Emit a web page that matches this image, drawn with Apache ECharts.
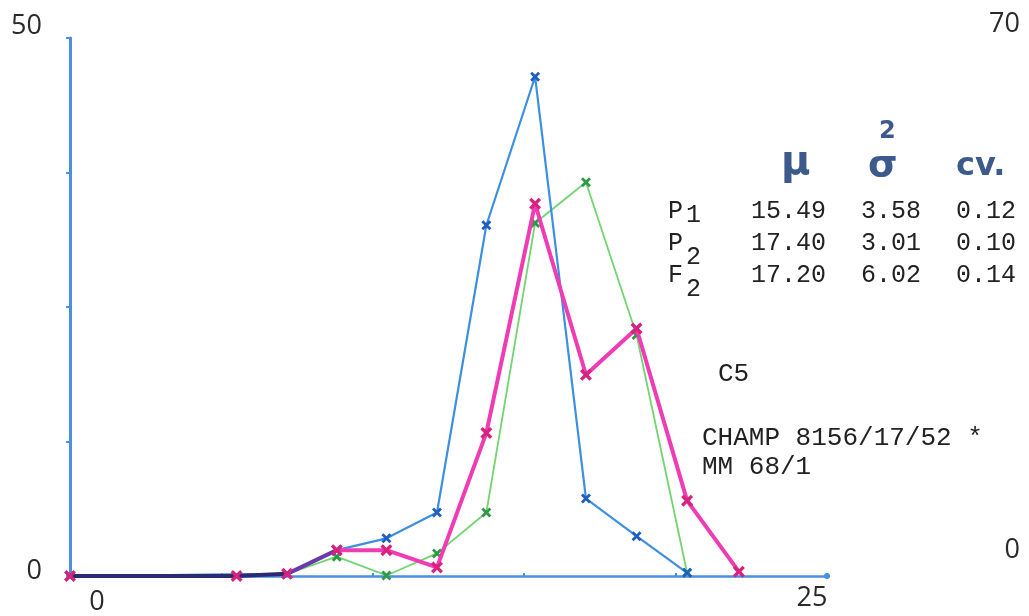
<!DOCTYPE html>
<html><head><meta charset="utf-8">
<script src="https://cdn.jsdelivr.net/npm/echarts@6/dist/echarts.min.js"></script>
<style>html,body{margin:0;padding:0;background:#fff}#c{width:1029px;height:616px}</style>
</head><body><div id="c"></div>
<script>
// ---- data ----
const xs = [0, 5.5, 7.17, 8.81, 10.45, 12.12, 13.75, 15.36, 17.04, 18.71, 20.38, 22.09];
const p1 = [0, null, 0.2, 2.4, 3.5, 5.9, 32.6, 46.4, 7.2, 3.7, 0.3, null];
const p2 = [0, null, 0.2, 1.8, 0.05, 2.1, 5.9, 32.8, 36.6, 22.4, 0.3, null];
const f2 = [0, 0, 0.2, 2.4, 2.4, 0.8, 13.3, 34.6, 18.7, 23.0, 7.0, 0.4];
const xTickLabels = ['0', '25'];
const yLeftTickLabels = ['0', '50'];
const yRightTickLabels = ['0', '70'];
const rowNames = ['P', 'P', 'F'];
const rowSubs = ['1', '2', '2'];
const muVals = ['15.49', '17.40', '17.20'];
const varVals = ['3.58', '3.01', '6.02'];
const cvVals = ['0.12', '0.10', '0.14'];
const headers = ['\u03bc', '\u03c3', 'cv.'];
const notes = ['C5', 'CHAMP 8156/17/52 *', 'MM 68/1'];

const pair = arr => xs.map((x, i) => [x, arr[i]]);
const X = 'path://M0,2L2,0L5,3L8,0L10,2L7,5L10,8L8,10L5,7L2,10L0,8L3,5Z';
const chart = echarts.init(document.getElementById('c'));
const mono = 'Liberation Mono';
const g = [];
rowNames.forEach((n, i) => {
  const cy = 199 + i * 32;
  g.push({type:'text', x:668, y:cy, style:{text:n, font:'25px "' + mono + '"', fill:'#222'}});
  g.push({type:'text', x:686, y:cy + [4, 14, 14][i], style:{text:rowSubs[i], font:'25px "' + mono + '"', fill:'#222'}});
  g.push({type:'text', x:751, y:cy, style:{text:muVals[i], font:'25px "' + mono + '"', fill:'#222'}});
  g.push({type:'text', x:861, y:cy, style:{text:varVals[i], font:'25px "' + mono + '"', fill:'#222'}});
  g.push({type:'text', x:956, y:cy, style:{text:cvVals[i], font:'25px "' + mono + '"', fill:'#222'}});
});
const hc = '#3d5a8c';
g.push({type:'text', x:781, y:144, style:{text:headers[0], font:'bold 40px "DejaVu Sans"', fill:hc}});
g.push({type:'text', x:868, y:147, style:{text:headers[1], font:'bold 38px "DejaVu Sans"', fill:hc}});
g.push({type:'text', x:879, y:120, style:{text:'2', font:'bold 24px "DejaVu Sans"', fill:hc}});
g.push({type:'text', x:956, y:151, style:{text:headers[2], font:'bold 32px "DejaVu Sans"', fill:hc}});
g.push({type:'text', x:718, y:361, style:{text:notes[0], font:'26px "' + mono + '"', fill:'#222'}});
g.push({type:'text', x:702, y:425, style:{text:notes[1], font:'26px "' + mono + '"', fill:'#222'}});
g.push({type:'text', x:702, y:454, style:{text:notes[2], font:'26px "' + mono + '"', fill:'#222'}});

// overlapping start of the curves is drawn darker, as in the reference
const lastX = xs[xs.length - 1];
const s1 = xs[2] / lastX, s2 = xs[3] / lastX;
const f2Line = {type:'linear', x:0, y:0, x2:1, y2:0, colorStops:[
  {offset:0, color:'#2b2a72'}, {offset:s1, color:'#2b2a72'},
  {offset:s1, color:'#6a3aa8'}, {offset:s2, color:'#6a3aa8'},
  {offset:s2, color:'#f03cb4'}, {offset:1, color:'#f03cb4'}]};

const lab = {fontFamily:'Open Sans', fontSize:27, color:'#2a2a2a'};
chart.setOption({
  animation:false,
  backgroundColor:'#fff',
  grid:{left:70, right:202, top:38, bottom:39},
  xAxis:{type:'value', min:0, max:25, interval:5,
    axisLine:{show:true, lineStyle:{color:'#4a8fe0', width:2.5}, symbol:['none','circle'], symbolSize:[6,6]},
    axisTick:{show:true, inside:true, length:3, lineStyle:{color:'#4a8fe0', width:2}},
    splitLine:{show:false},
    axisLabel:{margin:9, showMinLabel:true, showMaxLabel:true,
      formatter:v => v === 0 ? '{a|' + xTickLabels[0] + '}' : (v === 25 ? '{b|' + xTickLabels[1] + '}' : ''),
      rich:{a:Object.assign({padding:[4,0,0,54]}, lab), b:Object.assign({padding:[0,30,0,0]}, lab)}}},
  yAxis:[{type:'value', min:0, max:50, interval:12.5, position:'left',
    axisLine:{show:true, lineStyle:{color:'#4a8fe0', width:3}},
    axisTick:{show:true, length:4, lineStyle:{color:'#4a8fe0', width:2}},
    splitLine:{show:false},
    axisLabel:{margin:28, showMinLabel:true, showMaxLabel:true,
      formatter:v => v === 50 ? '{a|' + yLeftTickLabels[1] + '}' : (v === 0 ? '{b|' + yLeftTickLabels[0] + '}' : ''),
      rich:{a:Object.assign({padding:[0,0,24,0]}, lab), b:Object.assign({padding:[0,0,10,0]}, lab)}}},
   {type:'value', min:0, max:70, interval:70, position:'right',
    axisLine:{show:false}, axisTick:{show:false}, splitLine:{show:false},
    axisLabel:{margin:193, align:'right', showMinLabel:true, showMaxLabel:true,
      formatter:v => v === 70 ? '{a|' + yRightTickLabels[1] + '}' : (v === 0 ? '{b|' + yRightTickLabels[0] + '}' : ''),
      rich:{a:Object.assign({padding:[0,0,28,0], align:'right'}, lab), b:Object.assign({padding:[0,0,52,0], align:'right'}, lab)}}}],
  series:[
    {name:'P2', type:'line', data:pair(p2), connectNulls:true, symbol:X, symbolSize:10, z:2,
      lineStyle:{color:'#72d472', width:1.8}, itemStyle:{color:'#2f9a45'}},
    {name:'P1', type:'line', data:pair(p1), connectNulls:true, symbol:X, symbolSize:10, z:3,
      lineStyle:{color:'#3d8fe0', width:2.2}, itemStyle:{color:'#1f5fbf'}},
    {name:'F2', type:'line', data:pair(f2), connectNulls:true, symbol:X, symbolSize:12, z:4,
      lineStyle:{color:f2Line, width:4}, itemStyle:{color:'#d6237f'}}
  ],
  graphic:g
});
</script></body></html>
